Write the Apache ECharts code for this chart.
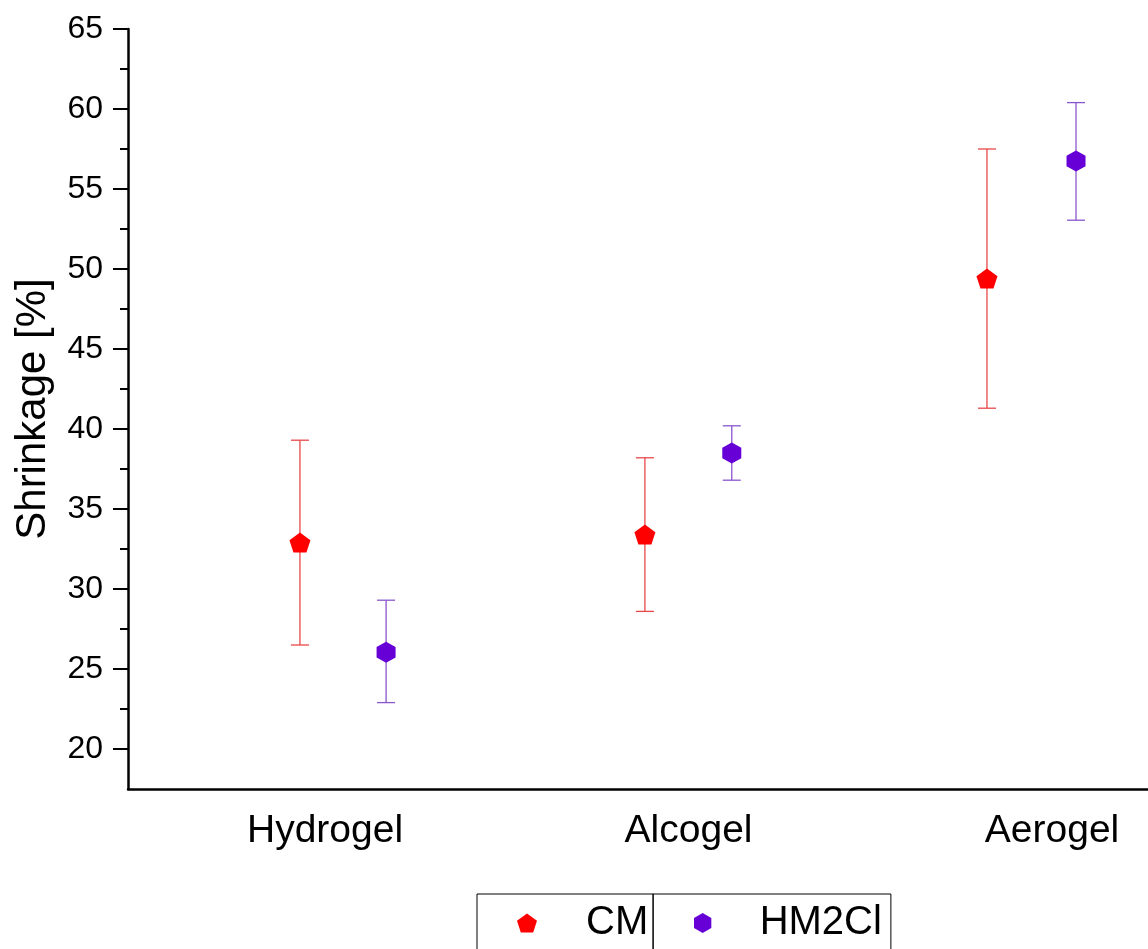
<!DOCTYPE html>
<html>
<head>
<meta charset="utf-8">
<script src="https://cdn.jsdelivr.net/npm/echarts@6/dist/echarts.min.js"></script>
<style>
html,body{margin:0;padding:0;background:#fff;}
#chart{width:1148px;height:949px;}
</style>
</head>
<body>
<div id="chart"></div>
<script>
// ---- data ----
const categories = ['Hydrogel', 'Alcogel', 'Aerogel'];
const categoryPositions = [1, 2, 3];
const seriesNames = ['CM', 'HM2Cl'];
// x positions of the points (category position with offset)
const cmX = [0.931, 1.880, 2.821];
const hmX = [1.168, 2.119, 3.066];
// mean values
const cmMean = [32.9, 33.4, 49.4];
const hmMean = [26.05, 38.5, 56.75];
// error bar bounds
const cmLow = [26.5, 28.6, 41.3];
const cmHigh = [39.3, 38.2, 57.5];
const hmLow = [22.9, 36.8, 53.05];
const hmHigh = [29.3, 40.2, 60.4];
const yMajorTicks = [20, 25, 30, 35, 40, 45, 50, 55, 60, 65];
const yMinorTicks = [22.5, 27.5, 32.5, 37.5, 42.5, 47.5, 52.5, 57.5, 62.5];

const pentagon = 'path://M0,-1 L0.951,-0.309 L0.588,0.809 L-0.588,0.809 L-0.951,-0.309 Z';
const hexagon = 'path://M0,-1 L0.866,-0.5 L0.866,0.5 L0,1 L-0.866,0.5 L-0.866,-0.5 Z';

const cmColor = '#ff0000';
const cmErrColor = '#e8474a';
const hmColor = '#6600d6';
const hmErrColor = '#8a55cc';

function errData(xs, lo, hi) {
  return xs.map((x, i) => [x, lo[i], hi[i]]);
}
function errRender(color) {
  return function (params, api) {
    const x = api.value(0);
    const p1 = api.coord([x, api.value(1)]);
    const p2 = api.coord([x, api.value(2)]);
    const hw = 9;
    const style = { stroke: color, lineWidth: 1.3 };
    return {
      type: 'group',
      children: [
        { type: 'line', shape: { x1: p1[0], y1: p1[1], x2: p2[0], y2: p2[1] }, style },
        { type: 'line', shape: { x1: p1[0] - hw, y1: p1[1], x2: p1[0] + hw, y2: p1[1] }, style },
        { type: 'line', shape: { x1: p2[0] - hw, y1: p2[1], x2: p2[0] + hw, y2: p2[1] }, style }
      ]
    };
  };
}

const font = '"Liberation Sans", Arial, sans-serif';
const chart = echarts.init(document.getElementById('chart'));
const yMin = 17.5, yMax = 65;

chart.setOption({
  backgroundColor: '#fff',
  animation: false,
  grid: { left: 128, right: 0, top: 29, bottom: 160, containLabel: false },
  legend: [
    {
      data: [{ name: seriesNames[0], icon: pentagon, itemStyle: { color: cmColor, opacity: 1 } }],
      left: 477, top: 894, orient: 'horizontal',
      padding: [6, 5, 30, 40],
      itemWidth: 20, itemHeight: 19,
      borderColor: '#000', borderWidth: 1,
      textStyle: { fontFamily: font, fontSize: 40, color: '#000', padding: [0, 0, 0, 44], lineHeight: 46 }
    },
    {
      data: [{ name: seriesNames[1], icon: hexagon, itemStyle: { color: hmColor, opacity: 1 } }],
      left: 653, top: 894, orient: 'horizontal',
      padding: [6, 9, 30, 41],
      itemWidth: 18, itemHeight: 20,
      borderColor: '#000', borderWidth: 1,
      textStyle: { fontFamily: font, fontSize: 40, color: '#000', padding: [0, 0, 0, 43], lineHeight: 46 }
    }
  ],
  xAxis: {
    type: 'value', min: 0.458, max: 3.264,
    axisLine: { show: true, onZero: false, lineStyle: { color: '#000', width: 2.5 } },
    axisTick: { show: false },
    splitLine: { show: false },
    axisLabel: {
      customValues: categoryPositions,
      formatter: v => categories[categoryPositions.indexOf(Math.round(v))] || '',
      fontFamily: font, fontSize: 39, color: '#000', margin: 23
    }
  },
  yAxis: [
    {
      type: 'value', min: yMin, max: yMax,
      name: 'Shrinkage [%]', nameLocation: 'middle', nameGap: 74,
      nameTextStyle: { fontFamily: font, fontSize: 42, color: '#000' },
      axisLine: { show: true, lineStyle: { color: '#000', width: 2.5 } },
      axisTick: { show: true, customValues: yMajorTicks, length: 15, lineStyle: { color: '#000', width: 2 } },
      axisLabel: { customValues: yMajorTicks, fontFamily: font, fontSize: 32, color: '#000', margin: 25 },
      splitLine: { show: false }
    },
    {
      type: 'value', min: yMin, max: yMax, position: 'left',
      axisLine: { show: false },
      axisTick: { show: true, customValues: yMinorTicks, length: 8, lineStyle: { color: '#000', width: 2 } },
      axisLabel: { show: false },
      splitLine: { show: false }
    }
  ],
  series: [
    {
      name: seriesNames[0] + ' err', type: 'custom', renderItem: errRender(cmErrColor),
      data: errData(cmX, cmLow, cmHigh), encode: { x: 0, y: [1, 2] }, z: 1, silent: true
    },
    {
      name: seriesNames[1] + ' err', type: 'custom', renderItem: errRender(hmErrColor),
      data: errData(hmX, hmLow, hmHigh), encode: { x: 0, y: [1, 2] }, z: 1, silent: true
    },
    {
      name: seriesNames[0], type: 'scatter', symbol: pentagon, symbolSize: [21, 20],
      itemStyle: { color: cmColor, opacity: 1 }, z: 3,
      data: cmX.map((x, i) => [x, cmMean[i]])
    },
    {
      name: seriesNames[1], type: 'scatter', symbol: hexagon, symbolSize: [19, 21],
      itemStyle: { color: hmColor, opacity: 1 }, z: 3,
      data: hmX.map((x, i) => [x, hmMean[i]])
    }
  ]
});
</script>
</body>
</html>
